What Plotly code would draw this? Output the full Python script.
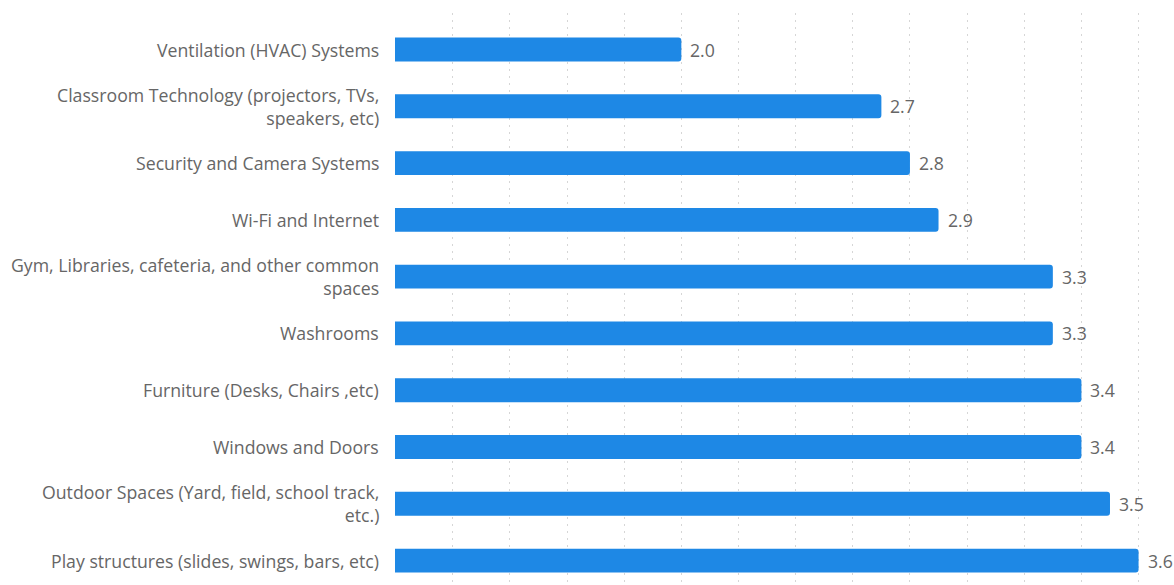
import plotly.graph_objects as go

# Survey: average condition rating by school facility area
categories = [
    "Ventilation (HVAC) Systems",
    "Classroom Technology (projectors, TVs,<br>speakers, etc)",
    "Security and Camera Systems",
    "Wi-Fi and Internet",
    "Gym, Libraries, cafeteria, and other common<br>spaces",
    "Washrooms",
    "Furniture (Desks, Chairs ,etc)",
    "Windows and Doors",
    "Outdoor Spaces (Yard, field, school track,<br>etc.)",
    "Play structures (slides, swings, bars, etc)",
]
ratings = [2.0, 2.7, 2.8, 2.9, 3.3, 3.3, 3.4, 3.4, 3.5, 3.6]

BAR_BLUE = "#1e88e5"
TEXT_GREY = "#666666"
FONT = "Open Sans"
FONT_SIZE = 17.7

positions = list(range(len(categories)))

fig = go.Figure()
fig.add_trace(
    go.Bar(
        x=ratings,
        y=positions,
        orientation="h",
        width=0.42,
        marker=dict(color=BAR_BLUE, cornerradius=3, line=dict(width=0)),
        hoverinfo="skip",
    )
)

# value labels just past the end of each bar
for pos, v in zip(positions, ratings):
    fig.add_annotation(
        x=v, y=pos, text=f"{v:.1f}", showarrow=False,
        xanchor="left", yanchor="middle", xshift=7,
        font=dict(family=FONT, size=FONT_SIZE, color=TEXT_GREY),
    )

# category labels, right-aligned against the plot area
for pos, label in zip(positions, categories):
    fig.add_annotation(
        x=0, xref="paper", y=pos, yref="y",
        text=label, showarrow=False, align="right",
        xanchor="right", yanchor="middle", xshift=-14,
        font=dict(family=FONT, size=FONT_SIZE, color=TEXT_GREY),
    )

fig.update_layout(
    width=1174,
    height=585,
    margin=dict(l=395, r=24, t=13, b=0),
    paper_bgcolor="white",
    plot_bgcolor="white",
    showlegend=False,
    font=dict(family=FONT, size=FONT_SIZE, color=TEXT_GREY),
)
fig.update_xaxes(
    range=[0.998, 3.64],
    tick0=1.0,
    dtick=0.2,
    showticklabels=False,
    showgrid=True,
    gridcolor="#d6d6d6",
    griddash="2px,5px",
    gridwidth=1,
    zeroline=False,
    showline=False,
    ticks="",
)
fig.update_yaxes(
    range=[9.43, -0.643],
    showticklabels=False,
    showgrid=False,
    zeroline=False,
    showline=False,
    ticks="",
)

fig.write_html("out.html")
